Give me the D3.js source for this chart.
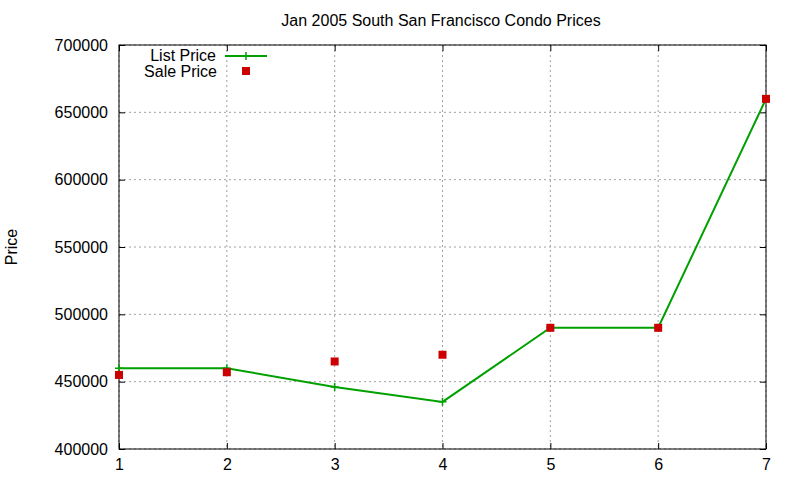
<!DOCTYPE html>
<html>
<head>
<meta charset="utf-8">
<script src="https://cdn.jsdelivr.net/npm/d3@7"></script>
<style>
  body { margin: 0; background: #fff; }
  text { font-family: "Liberation Sans", Arial, sans-serif; }
</style>
</head>
<body>
<svg width="800" height="480"></svg>
<script>
var months = [1, 2, 3, 4, 5, 6, 7];
var listPrice = [460000, 460000, 446000, 435000, 490000, 490000, 660000];
var salePrice = [455000, 457000, 465000, 470000, 490000, 490000, 660000];
var yTicks = [400000, 450000, 500000, 550000, 600000, 650000, 700000];

var svg = d3.select("svg"),
    margin = {top: 45, right: 34, bottom: 31, left: 119},
    width = 800 - margin.left - margin.right,
    height = 480 - margin.top - margin.bottom,
    g = svg.append("g").attr("transform", "translate(" + margin.left + "," + margin.top + ")");

var x = d3.scaleLinear().domain([1, 7]).range([0, width]);
var y = d3.scaleLinear().domain([400000, 700000]).range([height, 0]);

var data = months.map(function(m, i) {
  return {month: m, list: listPrice[i], sale: salePrice[i]};
});

// grid
g.append("g").selectAll("line").data(months).enter().append("line")
  .attr("x1", function(d) { return x(d); }).attr("x2", function(d) { return x(d); })
  .attr("y1", 0).attr("y2", height)
  .attr("stroke", "#a0a0a0").attr("stroke-dasharray", "2,3");
g.append("g").selectAll("line").data(yTicks).enter().append("line")
  .attr("y1", function(d) { return y(d); }).attr("y2", function(d) { return y(d); })
  .attr("x1", 0).attr("x2", width)
  .attr("stroke", "#a0a0a0").attr("stroke-dasharray", "2,3");

// axes with inward ticks, mirrored
function styleAxis(sel) {
  sel.select(".domain").remove();
  sel.selectAll(".tick line").attr("stroke", "#000");
  sel.selectAll("text").attr("fill", "#000").style("font-size", "16px");
}
g.append("g").attr("transform", "translate(0," + height + ")")
  .call(d3.axisBottom(x).tickValues(months).tickFormat(d3.format("d")).tickSizeInner(-6).tickPadding(10))
  .call(styleAxis);
g.append("g")
  .call(d3.axisLeft(y).tickValues(yTicks).tickFormat(d3.format("d")).tickSizeInner(-6).tickPadding(11))
  .call(styleAxis);
g.append("g")
  .call(d3.axisTop(x).tickValues(months).tickFormat("").tickSizeInner(-6))
  .call(styleAxis);
g.append("g").attr("transform", "translate(" + width + ",0)")
  .call(d3.axisRight(y).tickValues(yTicks).tickFormat("").tickSizeInner(-6))
  .call(styleAxis);

g.append("rect").attr("width", width).attr("height", height)
  .attr("fill", "none").attr("stroke", "#000").attr("stroke-width", 1);

// list price line
var line = d3.line()
  .x(function(d) { return x(d.month); })
  .y(function(d) { return y(d.list); });

g.append("path").datum(data)
  .attr("fill", "none").attr("stroke", "#00a000").attr("stroke-width", 2)
  .attr("d", line);

function plus(sel, cx, cy) {
  sel.append("path")
    .attr("d", "M" + (cx - 4) + "," + cy + "H" + (cx + 4) + "M" + cx + "," + (cy - 4) + "V" + (cy + 4))
    .attr("stroke", "#00a000").attr("stroke-width", 1.5);
}
data.forEach(function(d) { plus(g, x(d.month), y(d.list)); });

// sale price squares
g.selectAll(".sale").data(data).enter().append("rect")
  .attr("class", "sale")
  .attr("x", function(d) { return x(d.month) - 4; })
  .attr("y", function(d) { return y(d.sale) - 4; })
  .attr("width", 8).attr("height", 8)
  .attr("fill", "#cc0000");

// legend
var legend = svg.append("g");
legend.append("text").attr("x", 216).attr("y", 61).attr("text-anchor", "end")
  .style("font-size", "16px").text("List Price");
legend.append("line").attr("x1", 225).attr("x2", 267).attr("y1", 56).attr("y2", 56)
  .attr("stroke", "#00a000").attr("stroke-width", 2);
plus(legend, 246, 56);
legend.append("text").attr("x", 217).attr("y", 77).attr("text-anchor", "end")
  .style("font-size", "16px").text("Sale Price");
legend.append("rect").attr("x", 242).attr("y", 67).attr("width", 8).attr("height", 8)
  .attr("fill", "#cc0000");

// title and y label
svg.append("text").attr("x", 441).attr("y", 26).attr("text-anchor", "middle")
  .style("font-size", "16px").text("Jan 2005 South San Francisco Condo Prices");
svg.append("text").attr("transform", "translate(17,247) rotate(-90)")
  .attr("text-anchor", "middle").style("font-size", "16px").text("Price");
</script>
</body>
</html>
